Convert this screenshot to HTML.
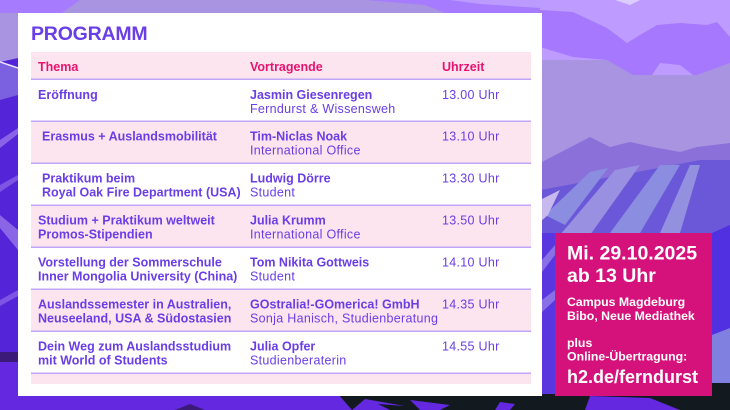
<!DOCTYPE html>
<html>
<head>
<meta charset="utf-8">
<style>
html,body{margin:0;padding:0;background:#a894e0;}
svg{display:block;}
text{font-family:"Liberation Sans",Arial,sans-serif;}
.b{font-weight:bold;font-size:12.5px;fill:#6a3ee6;}
.r{font-size:12.5px;fill:#6a3ee6;letter-spacing:0.3px;}
.h{font-weight:bold;font-size:12.5px;fill:#e8136f;}
.w{fill:#fff;font-weight:bold;}
</style>
</head>
<body>
<svg width="730" height="410" viewBox="0 0 730 410" xmlns="http://www.w3.org/2000/svg">
  <!-- background -->
  <rect width="730" height="410" fill="#a894e0"/>
  <polygon points="0,0 80,0 62,13 0,13" fill="#a77bfd"/>
  <polygon points="367,0 540,0 540,13 445,13 425,5" fill="#a67bff"/>
  <polygon points="450,0 540,0 540,8 480,4" fill="#bb9bff"/>
  <rect x="540" y="0" width="190" height="60" fill="#bd9bff"/>
  <polygon points="615,0 640,0 630,5" fill="#dccdff"/>
  <polygon points="540,10 573,12 607,28 627,43 640,35 657,25 680,23 707,25 717,22 730,37 730,63 697,75 633,75 607,60 573,57 540,47" fill="#a678fe"/>
  <polygon points="652,75 660,63 680,65 693,75" fill="#bd9bff"/>
  <polygon points="540,163 590,137 610,147 630,142 653,147 680,152 697,147 730,143 730,165 700,160 540,190" fill="#8c70da"/>
  <polygon points="540,190 700,160 730,160 730,410 540,410" fill="#6b58d8"/>
  <polygon points="545,215 590,172 608,168 565,225" fill="#8a8de0"/>
  <polygon points="560,235 615,170 640,165 590,235" fill="#9a90e2"/>
  <polygon points="610,233 660,165 680,165 640,233" fill="#8a8de0"/>
  <polygon points="660,233 690,165 700,165 680,233" fill="#9490e0"/>
  <polygon points="540,200 560,190 548,215 540,222" fill="#c7b8ee"/>
  <polygon points="712,233 730,225 730,330 712,335" fill="#5030e0"/>
  <polygon points="712,335 730,328 730,383 712,390" fill="#8080e0"/>
  <polygon points="542,233 555,233 555,396 542,396" fill="#5a36e0"/>
  <polygon points="542,260 555,245 555,255 542,272" fill="#8a70e6"/>
  <polygon points="542,300 555,290 555,300 542,312" fill="#8a70e6"/>
  <!-- left side -->
  <polygon points="0,62 18,58 18,410 0,410" fill="#5424d8"/>
  <polygon points="0,63 18,68 18,95 0,100" fill="#7b60e0"/>
  <line x1="0" y1="62" x2="18" y2="68" stroke="#ece4ff" stroke-width="1.5"/>
  <polygon points="0,140 18,128 18,134 0,148" fill="#8a62e8"/>
  <polygon points="0,185 18,175 18,180 0,192" fill="#7d55e4"/>
  <polygon points="0,215 18,230 18,250 0,228" fill="#8a66e6"/>
  <polygon points="0,300 18,290 18,296 0,306" fill="#7d55e4"/>
  <rect x="0" y="352" width="18" height="10" fill="#3c1a78"/>
  <rect x="0" y="362" width="18" height="48" fill="#6428e0"/>
  <!-- bottom -->
  <rect x="0" y="394" width="730" height="16" fill="#6428e0"/>
  <polygon points="338,394 730,394 730,410 352,410" fill="#121a1f"/>
  <polygon points="712,383 730,383 730,396 712,396" fill="#121a1f"/>
  <polygon points="352,410 365,399 405,406 378,404 390,410" fill="#6428e0"/>
  <polygon points="420,410 410,400 450,405 440,410" fill="#6428e0"/>
  <polygon points="495,410 500,402 515,404 510,410" fill="#6428e0"/>
  <polygon points="585,410 590,396 650,398 680,410" fill="#6428e0"/>
  <polygon points="175,410 190,404 205,410" fill="#3c1a78"/>

  <!-- white panel -->
  <rect x="18" y="13" width="524" height="383" fill="#ffffff"/>
  <text x="31" y="40" font-size="19.5" font-weight="bold" fill="#6a3ee6" letter-spacing="-0.2">PROGRAMM</text>

  <!-- table backgrounds -->
  <rect x="31" y="52" width="500" height="27" fill="#fde5f0"/>
  <rect x="31" y="122" width="500" height="41" fill="#fde5f0"/>
  <rect x="31" y="206" width="500" height="41" fill="#fde5f0"/>
  <rect x="31" y="290" width="500" height="41" fill="#fde5f0"/>
  <rect x="31" y="374" width="500" height="10" fill="#fde5f0"/>
  <g fill="#c0a6f7">
    <rect x="31" y="78.5" width="500" height="1.5"/>
    <rect x="31" y="120.5" width="500" height="1.5"/>
    <rect x="31" y="162.5" width="500" height="1.5"/>
    <rect x="31" y="204.5" width="500" height="1.5"/>
    <rect x="31" y="246.5" width="500" height="1.5"/>
    <rect x="31" y="288.5" width="500" height="1.5"/>
    <rect x="31" y="330.5" width="500" height="1.5"/>
    <rect x="31" y="372.5" width="500" height="1.5"/>
  </g>

  <!-- header -->
  <text class="h" x="38" y="71">Thema</text>
  <text class="h" x="250" y="71">Vortragende</text>
  <text class="h" x="442" y="71">Uhrzeit</text>

  <!-- row 1 -->
  <text class="b" x="38" y="99">Eröffnung</text>
  <text class="b" x="250" y="99">Jasmin Giesenregen</text>
  <text class="r" x="250" y="113">Ferndurst &amp; Wissensweh</text>
  <text class="r" x="442" y="99">13.00 Uhr</text>

  <!-- row 2 -->
  <text class="b" x="42" y="140.5">Erasmus + Auslandsmobilität</text>
  <text class="b" x="250" y="140.5">Tim-Niclas Noak</text>
  <text class="r" x="250" y="154.5">International Office</text>
  <text class="r" x="442" y="140.5">13.10 Uhr</text>

  <!-- row 3 -->
  <text class="b" x="42" y="182.5">Praktikum beim</text>
  <text class="b" x="42" y="196.5">Royal Oak Fire Department (USA)</text>
  <text class="b" x="250" y="182.5">Ludwig Dörre</text>
  <text class="r" x="250" y="196.5">Student</text>
  <text class="r" x="442" y="182.5">13.30 Uhr</text>

  <!-- row 4 -->
  <text class="b" x="38" y="224.5">Studium + Praktikum weltweit</text>
  <text class="b" x="38" y="238.5">Promos-Stipendien</text>
  <text class="b" x="250" y="224.5">Julia Krumm</text>
  <text class="r" x="250" y="238.5">International Office</text>
  <text class="r" x="442" y="224.5">13.50 Uhr</text>

  <!-- row 5 -->
  <text class="b" x="38" y="266.5">Vorstellung der Sommerschule</text>
  <text class="b" x="38" y="280.5">Inner Mongolia University (China)</text>
  <text class="b" x="250" y="266.5">Tom Nikita Gottweis</text>
  <text class="r" x="250" y="280.5">Student</text>
  <text class="r" x="442" y="266.5">14.10 Uhr</text>

  <!-- row 6 -->
  <text class="b" x="38" y="308.5">Auslandssemester in Australien,</text>
  <text class="b" x="38" y="322.5">Neuseeland, USA &amp; Südostasien</text>
  <text class="b" x="250" y="308.5">GOstralia!-GOmerica! GmbH</text>
  <text class="r" x="250" y="322.5" letter-spacing="0.2">Sonja Hanisch, Studienberatung</text>
  <text class="r" x="442" y="308.5">14.35 Uhr</text>

  <!-- row 7 -->
  <text class="b" x="38" y="350.5">Dein Weg zum Auslandsstudium</text>
  <text class="b" x="38" y="364.5">mit World of Students</text>
  <text class="b" x="250" y="350.5">Julia Opfer</text>
  <text class="r" x="250" y="364.5">Studienberaterin</text>
  <text class="r" x="442" y="350.5">14.55 Uhr</text>

  <!-- pink info box -->
  <rect x="555" y="233" width="157" height="163" fill="#d5127b"/>
  <text class="w" x="567" y="259.5" font-size="19.5">Mi. 29.10.2025</text>
  <text class="w" x="567" y="282" font-size="19.5">ab 13 Uhr</text>
  <text class="w" x="567" y="306" font-size="12.3">Campus Magdeburg</text>
  <text class="w" x="567" y="320" font-size="12.3">Bibo, Neue Mediathek</text>
  <text class="w" x="567" y="347" font-size="12.3">plus</text>
  <text class="w" x="567" y="360.5" font-size="12.3">Online-Übertragung:</text>
  <text class="w" x="567" y="383" font-size="18">h2.de/ferndurst</text>
</svg>
</body>
</html>
